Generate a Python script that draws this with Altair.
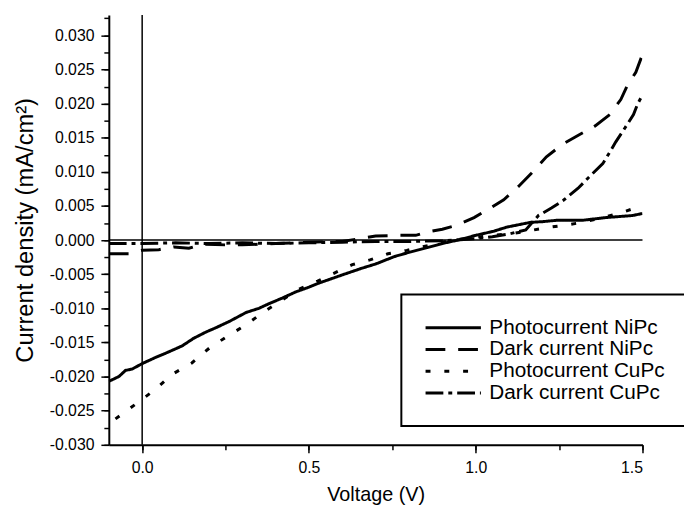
import altair as alt
import pandas as pd

# ---------------- data ----------------
series_names = ["Photocurrent NiPc", "Dark current NiPc", "Photocurrent CuPc", "Dark current CuPc"]

photo_nipc_v = [-0.10, -0.07, -0.05, -0.03, 0.00, 0.04, 0.074, 0.12, 0.154, 0.19, 0.223, 0.262, 0.312, 0.35, 0.381,
                0.42, 0.46, 0.50, 0.53, 0.60, 0.66, 0.70, 0.757, 0.80, 0.855, 0.90, 0.955, 1.00, 1.054, 1.093,
                1.164, 1.20, 1.242, 1.32, 1.39, 1.47, 1.50]
photo_nipc_j = [-0.0207, -0.0200, -0.0191, -0.0189, -0.0181, -0.0172, -0.0165, -0.0155, -0.0144, -0.0135, -0.0128,
                -0.0119, -0.0106, -0.0100, -0.0093, -0.0085, -0.0076, -0.0069, -0.0063, -0.0051, -0.0041, -0.0035,
                -0.0024, -0.0018, -0.0011, -0.0005, 0.0001, 0.0007, 0.0013, 0.0019, 0.0026, 0.0027, 0.0029,
                0.0029, 0.0033, 0.0036, 0.0039]

dark_nipc_v = [-0.10, -0.04, 0.00, 0.05, 0.095, 0.14, 0.18, 0.25, 0.30, 0.40, 0.50, 0.60, 0.65, 0.70, 0.77, 0.82,
               0.855, 0.90, 0.945, 0.995, 1.034, 1.084, 1.129, 1.167, 1.212, 1.262, 1.313, 1.357, 1.402, 1.435,
               1.455, 1.48, 1.50]
dark_nipc_j = [-0.0020, -0.0020, -0.0015, -0.0014, -0.0010, -0.0012, -0.0006, -0.0007, -0.0007, -0.0005, -0.0003,
               -0.0002, 0.0002, 0.0006, 0.0007, 0.0007, 0.0012, 0.0016, 0.0022, 0.0033, 0.0044, 0.0059, 0.0079,
               0.0098, 0.0122, 0.0141, 0.0155, 0.0167, 0.0184, 0.0206, 0.0227, 0.0246, 0.0272]

photo_cupc_v = [-0.08, -0.01, 0.039, 0.089, 0.149, 0.202, 0.252, 0.312, 0.362, 0.416, 0.47, 0.526, 0.573, 0.63,
                0.683, 0.737, 0.793, 0.84, 0.897, 0.95, 1.00, 1.054, 1.114, 1.164, 1.223, 1.27, 1.32, 1.38, 1.435,
                1.49, 1.50]
photo_cupc_j = [-0.0262, -0.0237, -0.0219, -0.0197, -0.0180, -0.0158, -0.0142, -0.0124, -0.0106, -0.0089, -0.0072,
                -0.0060, -0.0049, -0.0036, -0.0029, -0.0020, -0.0015, -0.0010, -0.0003, 0.0001, 0.0004, 0.0007,
                0.0010, 0.0014, 0.0019, 0.0022, 0.0026, 0.0033, 0.0040, 0.0049, 0.0050]

dark_cupc_v = [-0.10, 0.00, 0.10, 0.20, 0.30, 0.40, 0.50, 0.60, 0.70, 0.80, 0.90, 1.00, 1.05, 1.10, 1.15, 1.188,
               1.227, 1.262, 1.307, 1.337, 1.381, 1.402, 1.42, 1.455, 1.473, 1.485, 1.50]
dark_cupc_j = [-0.0005, -0.0005, -0.0004, -0.0005, -0.0004, -0.0005, -0.0004, -0.0003, -0.0002, -0.0002, -0.0001,
               0.0002, 0.0005, 0.0009, 0.0015, 0.0036, 0.0047, 0.0058, 0.0076, 0.0091, 0.0112, 0.0129, 0.0144,
               0.0170, 0.0184, 0.0199, 0.0213]

x_domain = [-0.1, 1.5]
y_domain = [-0.030, 0.033]
x_major_ticks = [0.0, 0.5, 1.0, 1.5]
x_minor_ticks = [0.0, 0.25, 0.5, 0.75, 1.0, 1.25, 1.5]
y_major_ticks = [-0.030, -0.025, -0.020, -0.015, -0.010, -0.005, 0.000, 0.005, 0.010, 0.015, 0.020, 0.025, 0.030]
y_minor_ticks = [-0.030, -0.0275, -0.025, -0.0225, -0.020, -0.0175, -0.015, -0.0125, -0.010, -0.0075, -0.005,
                 -0.0025, 0.000, 0.0025, 0.005, 0.0075, 0.010, 0.0125, 0.015, 0.0175, 0.020, 0.0225, 0.025,
                 0.0275, 0.030, 0.0325]

dash_patterns = [[1, 0], [20, 13], [5, 14], [18, 5, 4, 5]]

# ---------------- build tables ----------------
rows = []
for name, vs, js in zip(series_names,
                        [photo_nipc_v, dark_nipc_v, photo_cupc_v, dark_cupc_v],
                        [photo_nipc_j, dark_nipc_j, photo_cupc_j, dark_cupc_j]):
    for i, (v, j) in enumerate(zip(vs, js)):
        rows.append({"series": name, "V": v, "J": j, "i": i})
df = pd.DataFrame(rows)

# zero reference lines (V = 0 over the whole J range, J = 0 over the whole V range)
zero_df = pd.DataFrame({
    "xa": [0.0, x_domain[0]], "xb": [0.0, x_domain[1]],
    "ya": [y_domain[0], 0.0], "yb": [y_domain[1], 0.0],
})

x_scale = alt.Scale(domain=x_domain, nice=False, zero=False)
y_scale = alt.Scale(domain=y_domain, nice=False, zero=False)

lines = alt.Chart(df).mark_line(strokeWidth=3, color="black", clip=True).encode(
    x=alt.X("V:Q", scale=x_scale, title="Voltage (V)", axis=alt.Axis(
        orient="bottom", values=x_major_ticks, format=".1f", tickSize=8, labelPadding=7,
        titleY=40, titleBaseline="top", titleFontSize=20)),
    y=alt.Y("J:Q", scale=y_scale, title="Current density (mA/cm²)", axis=alt.Axis(
        orient="left", values=y_major_ticks, tickSize=8, labelPadding=7,
        labelExpr="replace(format(datum.value, '.3f'), '\u2212', '-')",
        titleX=-84, titleBaseline="middle", titleAngle=270, titleFontSize=24)),
    strokeDash=alt.StrokeDash(
        "series:N",
        scale=alt.Scale(domain=series_names, range=dash_patterns),
        legend=alt.Legend(
            title=None,
            orient="none",
            legendX=296,
            legendY=283,
            symbolType="stroke",
            symbolSize=3136,
            symbolStrokeWidth=3,
            symbolStrokeColor="black",
            clipHeight=21,
            labelFont="Liberation Sans",
            labelFontSize=21,
            labelColor="black",
            labelLimit=400,
            labelOffset=7,
            padding=23,
            rowPadding=0,
            strokeColor="black",
        ),
    ),
    order="i:Q",
)

zero_lines = alt.Chart(zero_df).mark_rule(color="black", strokeWidth=1.5).encode(
    x=alt.X("xa:Q", scale=x_scale, axis=alt.Axis(
        orient="bottom", values=x_minor_ticks, tickSize=5, labels=False, domain=False, title=None)),
    x2="xb:Q",
    y=alt.Y("ya:Q", scale=y_scale, axis=alt.Axis(
        orient="left", values=y_minor_ticks, tickSize=5, labels=False, domain=False, title=None)),
    y2="yb:Q",
)

chart = alt.layer(zero_lines, lines).resolve_axis(x="independent", y="independent").properties(
    width=540,
    height=435,
    autosize=alt.AutoSizeParams(type="none"),
    padding={"left": 102, "top": 4, "right": 42, "bottom": 66},
).configure_view(stroke=None).configure_axis(
    grid=False,
    domainColor="black",
    domainWidth=2,
    tickColor="black",
    tickWidth=1.5,
    labelFont="Liberation Sans",
    labelFontSize=16,
    labelColor="black",
    labelOverlap=False,
    titleFont="Liberation Sans",
    titleFontWeight="normal",
    titleColor="black",
).configure_legend(strokeWidth=2)

chart.save("out.html", embed_options={"renderer": "svg", "actions": False})
